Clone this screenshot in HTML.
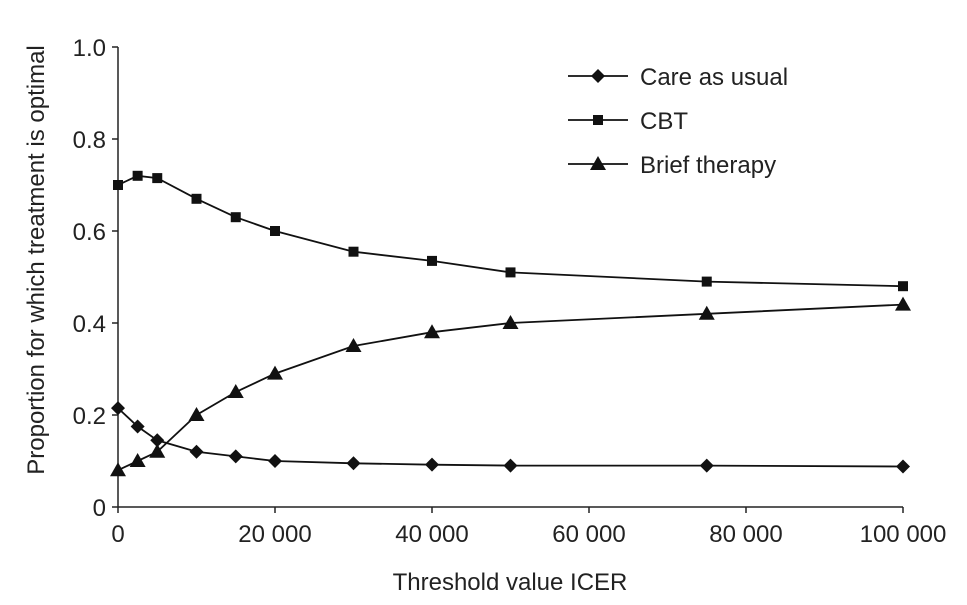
<!DOCTYPE html>
<html><head><meta charset="utf-8"><style>
body{margin:0;background:#fff;}
svg text{font-family:"Liberation Sans","DejaVu Sans",sans-serif;fill:#222;}
</style></head><body>
<svg id="chart" width="967" height="600"></svg>
<script>
const xValues=[0,2500,5000,10000,15000,20000,30000,40000,50000,75000,100000];
const careValues=[0.215,0.175,0.145,0.12,0.11,0.10,0.095,0.092,0.09,0.09,0.088];
const cbtValues=[0.70,0.72,0.715,0.67,0.63,0.60,0.555,0.535,0.51,0.49,0.48];
const briefValues=[0.08,0.10,0.12,0.20,0.25,0.29,0.35,0.38,0.40,0.42,0.44];
const xTicks=[0,20000,40000,60000,80000,100000];
const xTickLabels=["0","20 000","40 000","60 000","80 000","100 000"];
const yTicks=[0,0.2,0.4,0.6,0.8,1.0];
const yTickLabels=["0","0.2","0.4","0.6","0.8","1.0"];

const NS="http://www.w3.org/2000/svg";
const svg=document.getElementById('chart');
const X0=118,X1=903,Y0=507,Y1=47;
const sx=v=>X0+(v-0)/100000*(X1-X0);
const sy=v=>Y0-v*(Y0-Y1);
function el(t,a,p){const e=document.createElementNS(NS,t);for(const k in a)e.setAttribute(k,a[k]);(p||svg).appendChild(e);return e;}

const axes=el('g',{});


const ya=el('line',{x1:X0,y1:Y1,x2:X0,y2:Y0,stroke:'#222','stroke-width':1.5},axes);


const xa=el('line',{x1:X0,y1:Y0,x2:X1,y2:Y0,stroke:'#222','stroke-width':1.5},axes);


yTicks.forEach((v,i)=>{
  el('line',{x1:X0-6,y1:sy(v),x2:X0,y2:sy(v),stroke:'#222','stroke-width':1.5},axes);
  const t=el('text',{x:X0-12,y:sy(v)+9,'text-anchor':'end','font-size':24},axes);
  t.textContent=yTickLabels[i];
  
  
});
xTicks.forEach((v,i)=>{
  el('line',{x1:sx(v),y1:Y0,x2:sx(v),y2:Y0+6,stroke:'#222','stroke-width':1.5},axes);
  const t=el('text',{x:sx(v),y:Y0+35,'text-anchor':'middle','font-size':24},axes);
  t.textContent=xTickLabels[i];
  
  
});
const xt=el('text',{x:510,y:590,'text-anchor':'middle','font-size':24});
xt.textContent='Threshold value ICER';


const yt=el('text',{x:0,y:0,'text-anchor':'middle','font-size':24,transform:'translate(44,260) rotate(-90)'});
yt.textContent='Proportion for which treatment is optimal';



function marker(kind,x,y,g){
  if(kind==='diamond')return el('polygon',{points:`${x},${y-7} ${x+7},${y} ${x},${y+7} ${x-7},${y}`,fill:'#111'},g);
  if(kind==='square')return el('rect',{x:x-5,y:y-5,width:10,height:10,fill:'#111'},g);
  return el('polygon',{points:`${x},${y-8} ${x+8},${y+6} ${x-8},${y+6}`,fill:'#111'},g);
}
const series=[["care-as-usual",careValues,'diamond'],["cbt",cbtValues,'square'],["brief-therapy",briefValues,'triangle']];
series.forEach(([name,vals,kind])=>{
  const g=el('g',{});
  
  
  const pl=el('polyline',{points:vals.map((v,i)=>sx(xValues[i])+','+sy(v)).join(' '),fill:'none',stroke:'#111','stroke-width':1.8},g);
  
  
  vals.forEach((v,i)=>{
    const m=marker(kind,sx(xValues[i]),sy(v),g);
    
    
  });
});
const legend=el('g',{});


const labels=["Care as usual","CBT","Brief therapy"];
series.forEach(([name,vals,kind],i)=>{
  const y=76+i*44;
  const g=el('g',{},legend);
  
  
  el('line',{x1:568,y1:y,x2:628,y2:y,stroke:'#111','stroke-width':1.8},g);
  marker(kind,598,y,g);
  const t=el('text',{x:640,y:y+9,'font-size':24},g);
  t.textContent=labels[i];
});
</script>
</body></html>
